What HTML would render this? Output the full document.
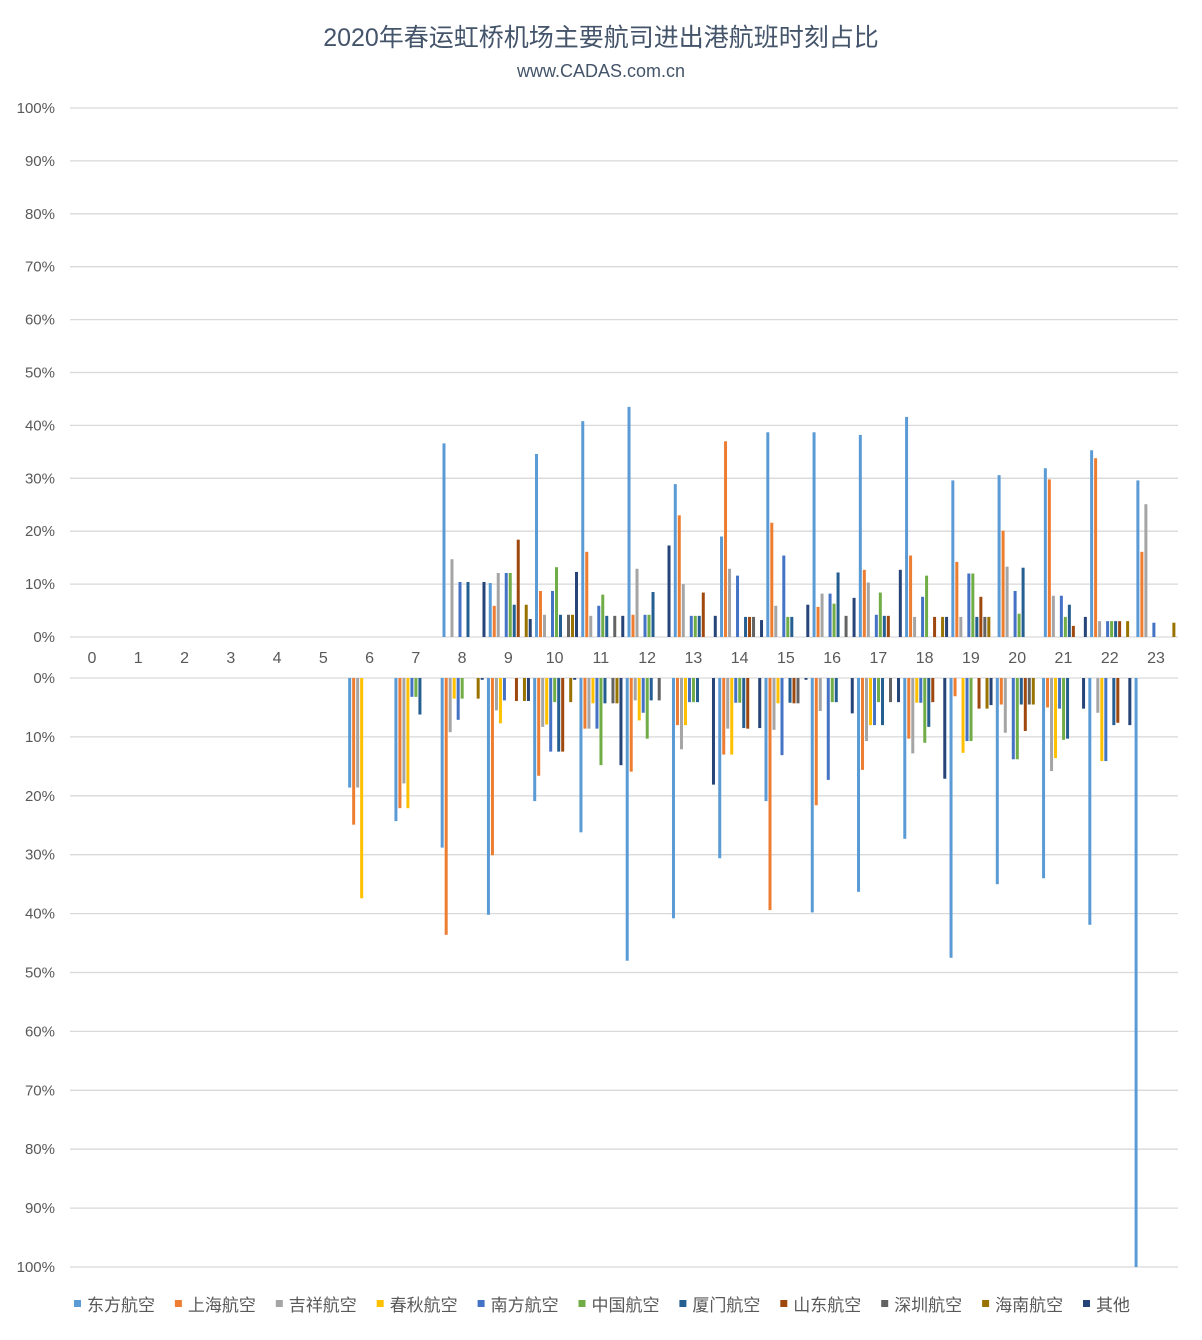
<!DOCTYPE html>
<html><head><meta charset="utf-8"><style>
html,body{margin:0;padding:0;background:#fff;}
svg text{font-family:"Liberation Sans","Noto Sans CJK SC",sans-serif;}
</style></head><body>
<svg id="c" width="1202" height="1335" xmlns="http://www.w3.org/2000/svg">
<text x="601" y="46" text-anchor="middle" font-size="25" fill="#44546a">2020年春运虹桥机场主要航司进出港航班时刻占比</text>
<text x="601" y="77" text-anchor="middle" font-size="18" fill="#44546a">www.CADAS.com.cn</text>
<g id="g"></g>
</svg>
<script>
var NS="http://www.w3.org/2000/svg",g=document.getElementById('g');
function el(t,a,txt){var e=document.createElementNS(NS,t);for(var k in a)e.setAttribute(k,a[k]);if(txt!=null)e.textContent=txt;g.appendChild(e);return e;}
var cols=["#5b9bd5","#ed7d31","#a5a5a5","#ffc000","#4472c4","#70ad47","#255e91","#9e480e","#636363","#997300","#264478"];
var names=["东方航空","上海航空","吉祥航空","春秋航空","南方航空","中国航空","厦门航空","山东航空","深圳航空","海南航空","其他"];
for(var k=0;k<=10;k++){var y=637-52.9*k;el('line',{x1:70,x2:1178,y1:y,y2:y,stroke:'#d9d9d9','stroke-width':1.3});
el('text',{x:55,y:y+5,'text-anchor':'end','font-size':15,fill:'#595959'},(k*10)+'%');}
for(var k=0;k<=10;k++){var y=678+58.9*k;el('line',{x1:70,x2:1178,y1:y,y2:y,stroke:'#d9d9d9','stroke-width':1.3});
el('text',{x:55,y:y+5,'text-anchor':'end','font-size':15,fill:'#595959'},(k*10)+'%');}
for(var h=0;h<24;h++){el('text',{x:92+46.26*h,y:663,'text-anchor':'middle','font-size':16,fill:'#595959'},h);}
var topD={8:[36.6,0,14.7,0,10.4,0,10.4,0,0,0,10.4],9:[10.2,5.9,12.1,0,12.1,12.1,6.1,18.4,0,6.1,3.4],10:[34.6,8.7,4.2,0,8.7,13.2,4.2,0,4.2,4.2,12.3],11:[40.8,16.1,4.0,0,5.9,8.0,4.0,0,4.0,0,4.0],12:[43.5,4.2,12.9,0,4.2,4.2,8.5,0,0,0,17.3],13:[28.9,23.0,10.0,0,4.0,4.0,4.0,8.4,0,0,4.0],14:[19.0,37.0,12.9,0,11.6,0,3.8,3.8,3.8,0,3.2],15:[38.7,21.6,5.9,0,15.4,3.8,3.8,0,0,0,6.1],16:[38.7,5.7,8.2,0,8.2,6.3,12.2,0,4.0,0,7.4],17:[38.2,12.7,10.3,0,4.2,8.4,4.0,4.0,0,0,12.7],18:[41.6,15.4,3.8,0,7.6,11.6,0,3.8,0,3.8,3.8],19:[29.6,14.2,3.8,0,12.0,12.0,3.8,7.6,3.8,3.8,0],20:[30.6,20.1,13.3,0,8.7,4.4,13.1,0,0,0,0],21:[31.9,29.8,7.8,0,7.8,3.8,6.1,2.1,0,0,3.8],22:[35.3,33.8,3.0,0,3.0,3.0,3.0,3.0,0,3.0,0],23:[29.6,16.1,25.1,0,2.7,0,0,0,0,2.7,0]};
var botD={6:[18.6,24.9,18.6,37.4,0,0,0,0,0,0,0],7:[24.3,22.1,17.9,22.1,3.2,3.2,6.2,0,0,0,0],8:[28.8,43.6,9.2,3.5,7.1,3.5,0,0,0,3.5,0.3],9:[40.2,30.1,5.5,7.7,3.8,0,0,3.9,0,3.9,3.9],10:[20.9,16.6,8.3,7.9,12.5,4.1,12.5,12.5,0,4.1,0.3],11:[26.2,8.6,8.6,4.3,8.6,14.8,4.3,0,4.3,4.3,14.8],12:[48.0,15.9,3.8,7.2,5.9,10.3,3.8,0,3.8,0,0],13:[40.8,8.0,12.1,8.0,4.1,4.1,4.1,0,0,0,18.1],14:[30.6,13.0,8.6,13.0,4.2,4.2,8.5,8.6,0,0,8.5],15:[20.9,39.4,8.8,4.3,13.1,0,4.2,4.3,4.3,0,0.3],16:[39.8,21.6,5.6,0,17.3,4.1,4.1,0,0,0,6.0],17:[36.3,15.6,10.7,8.0,8.0,4.1,8.0,0,4.1,0,4.1],18:[27.3,10.3,12.8,4.2,4.2,11.0,8.3,4.1,0,0,17.1],19:[47.5,3.1,0,12.7,10.7,10.7,0,5.2,0,5.2,4.6],20:[35.0,4.5,9.3,0,13.8,13.8,4.5,9.0,4.5,4.5,0],21:[34.0,5.0,15.8,13.6,5.2,10.5,10.3,0,0,0,5.2],22:[41.9,0,5.9,14.1,14.1,0,8.0,7.6,0,0,8.0],23:[100,0,0,0,0,0,0,0,0,0,0]};
for(var h in topD){for(var i=0;i<11;i++){var v=topD[h][i];if(!v)continue;var x=72.4+46.26*Number(h)+4*i,hh=v*5.29;
el('rect',{x:x,y:637-hh,width:3,height:hh,fill:cols[i]});}}
for(var h in botD){for(var i=0;i<11;i++){var v=botD[h][i];if(!v)continue;var x=70.6+46.26*Number(h)+4*i,hh=v*5.89;
el('rect',{x:x,y:678,width:3,height:hh,fill:cols[i]});}}
for(var i=0;i<11;i++){var x=74+100.9*i;el('rect',{x:x,y:1300,width:7,height:7,fill:cols[i]});
el('text',{x:x+13,y:1311,'font-size':17,fill:'#595959'},names[i]);}
</script>
</body></html>
